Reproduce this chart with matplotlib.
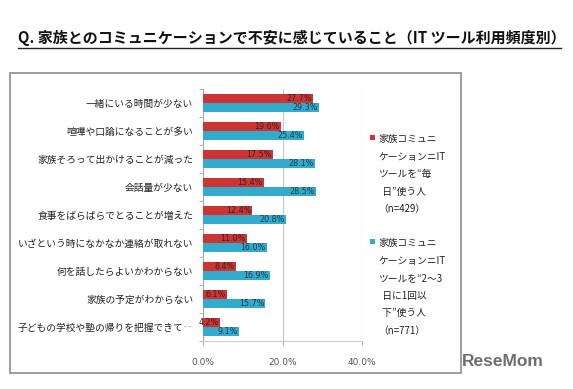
import matplotlib
matplotlib.use('Agg')
import numpy as np
import matplotlib.pyplot as plt
from matplotlib.patches import Rectangle
from matplotlib.lines import Line2D

plt.rcParams['font.family'] = ['Noto Sans CJK JP', 'DejaVu Sans']

# ── Datos ─────────────────────────────────────────────────────────────────────
categories = [
    '一緒にいる時間が少ない',
    '喧嘩や口論になることが多い',
    '家族そろって出かけることが減った',
    '会話量が少ない',
    '食事をばらばらでとることが増えた',
    'いざという時になかなか連絡が取れない',
    '何を話したらよいかわからない',
    '家族の予定がわからない',
    '子どもの学校や塾の帰りを把握できて‥',
]
daily = [27.7, 19.6, 17.5, 15.4, 12.4, 11.0, 8.4, 6.1, 4.2]
weekly = [29.3, 25.4, 28.1, 28.5, 20.8, 16.0, 16.9, 15.7, 9.1]
xticks = [0, 20, 40]
xtick_labels = ['0.0%', '20.0%', '40.0%']
legend_daily = '家族コミュニ\nケーションニIT\nツールを“毎\n  日”使う人\n（n=429）'
legend_weekly = '家族コミュニ\nケーションニIT\nツールを“2～3\n  日に1回以\n  下”使う人\n（n=771）'

RED = '#cc3534'
BLUE = '#33abcd'

W, H = 573, 389


def fx(px):
    return px / W


def fy(py):
    return 1 - py / H


fig = plt.figure(figsize=(W / 100, H / 100), dpi=100)
fig.patch.set_facecolor('white')

# ── Título ────────────────────────────────────────────────────────────────────
fig.text(fx(18), fy(38), 'Q. 家族とのコミュニケーションで不安に感じていること（IT ツール利用頻度別）',
         fontsize=10.8, fontweight='bold', ha='left', va='center', color='#111111')
fig.add_artist(Line2D([fx(18), fx(561)], [fy(48), fy(48)], color='#222222', lw=1.0))

# marco del gráfico
fig.add_artist(Rectangle((fx(10), fy(373)), fx(461) - fx(10), fy(73) - fy(373),
                         fill=False, edgecolor='#8c8c8c', lw=1.2))

# ── Ejes ──────────────────────────────────────────────────────────────────────
ax = fig.add_axes([fx(203), fy(341), fx(362) - fx(203), fy(89) - fy(341)])
y = np.arange(len(categories))
h = 0.31
ax.barh(y - h / 2, daily, height=h, color=RED, edgecolor='none', zorder=3)
ax.barh(y + h / 2, weekly, height=h, color=BLUE, edgecolor='none', zorder=3)

for yi, v in zip(y, daily):
    ax.text(v - 0.3, yi - h / 2, f'{v:.1f}%', ha='right', va='center',
            fontsize=5.8, color='#3a2222', zorder=4, family='DejaVu Sans')
for yi, v in zip(y, weekly):
    ax.text(v - 0.3, yi + h / 2, f'{v:.1f}%', ha='right', va='center',
            fontsize=5.8, color='#1e3a44', zorder=4, family='DejaVu Sans')

ax.set_xlim(0, 40)
ax.set_ylim(len(categories) - 0.5, -0.5)
ax.set_xticks(xticks)
ax.set_xticklabels(xtick_labels, fontsize=6.5, color='#555555', family='DejaVu Sans')
ax.tick_params(axis='x', length=3, color='#aaaaaa', pad=9)
ax.set_yticks(y)
ax.set_yticklabels(categories, fontsize=7.0, color='#222222')
ax.set_yticks(np.arange(len(categories) + 1) - 0.5, minor=True)
ax.tick_params(axis='y', which='major', length=0, pad=7)
ax.tick_params(axis='y', which='minor', length=3, color='#aaaaaa')
ax.grid(axis='x', color='#c8c8c8', lw=0.8, zorder=0)
for s in ['top', 'right']:
    ax.spines[s].set_visible(False)
ax.spines['left'].set_color('#aaaaaa')
ax.spines['bottom'].set_color('#cccccc')

# ── Leyenda ───────────────────────────────────────────────────────────────────
for top, color, label in [(138, RED, legend_daily), (242, BLUE, legend_weekly)]:
    fig.add_artist(Rectangle((fx(370), fy(top + 2)), fx(5), fy(0) - fy(5),
                             facecolor=color, edgecolor='none'))
    fig.text(fx(378), fy(top - 4), label, fontsize=7, ha='left', va='top',
             linespacing=1.95, color='#222222')

# marca de agua
fig.text(fx(462), fy(362), 'ReseMom', fontsize=12.5, fontweight='bold',
         color='#6e6e6e', ha='left', va='center', family='Liberation Sans')

fig.savefig('out.png', dpi=100)
